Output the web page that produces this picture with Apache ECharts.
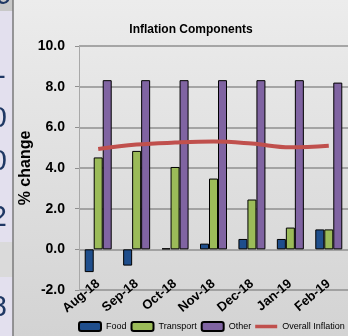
<!DOCTYPE html>
<html><head><meta charset="utf-8">
<script src="https://cdn.jsdelivr.net/npm/echarts@6/dist/echarts.min.js"></script>
<style>html,body{margin:0;padding:0;background:#fff;}#c{width:348px;height:336px;}</style>
</head><body><div id="c"></div>
<script>
const categories = ['Aug-18','Sep-18','Oct-18','Nov-18','Dec-18','Jan-19','Feb-19'];
const food = [-1.12, -0.8, 0.05, 0.28, 0.51, 0.51, 0.98];
const transport = [4.52, 4.84, 4.05, 3.48, 2.45, 1.07, 0.98];
const other = [8.32, 8.32, 8.32, 8.32, 8.32, 8.32, 8.2];
const overall = [4.93, 5.15, 5.25, 5.3, 5.2, 5.02, 5.1];
const yTicks = [-2, 0, 2, 4, 6, 8, 10];
const sideDigits = [['19', -4, 12], ['1', 70, 6], ['0', 119, 7], ['0', 162, 7], ['2', 218, 7], ['8', 308, 7]];

const FONT = '"Liberation Sans", Arial, sans-serif';
const chart = echarts.init(document.getElementById('c'));
const graphics = [
  {type:'rect', shape:{x:0,y:0,width:13,height:11}, style:{fill:'#c8c8c8'}, z:10},
  {type:'rect', shape:{x:0,y:11,width:13,height:231}, style:{fill:'#e3e0ee'}, z:10},
  {type:'rect', shape:{x:0,y:242,width:13,height:35}, style:{fill:'#dadada'}, z:10},
  {type:'rect', shape:{x:0,y:277,width:13,height:59}, style:{fill:'#e3e0ee'}, z:10},
  {type:'line', shape:{x1:13,y1:0,x2:13,y2:336}, style:{stroke:'#7a7a7a', lineWidth:1.5}, z:11}
];
sideDigits.forEach(d => graphics.push({
  type:'text', x:d[2], y:d[1], z:12,
  style:{text:d[0], fill:'#1f3864', font:'29px ' + FONT, align:'right', verticalAlign:'middle'}
}));

chart.setOption({
  animation:false,
  backgroundColor:{type:'linear', x:0, y:0, x2:0, y2:1, colorStops:[{offset:0,color:'#ececec'},{offset:1,color:'#d3d3d3'}]},
  title:{text:'Inflation Components', left:186, textAlign:'center', top:19,
    textStyle:{fontFamily:FONT, fontWeight:'bold', fontSize:12, color:'#000'}},
  legend:{left:78, top:321, width:270, itemWidth:22, itemHeight:9, itemGap:4, padding:0,
    textStyle:{fontFamily:FONT, fontSize:9, color:'#000'},
    data:[{name:'Food'},{name:'Transport'},{name:'Other'},
      {name:'Overall Inflation', icon:'path://M0,0H25V4H0Z', itemStyle:{color:'#c0504d'}}]},
  grid:{left:79, right:0, top:46, bottom:46, containLabel:false},
  xAxis:{type:'category', data:categories,
    axisLine:{onZero:false, show:false}, axisTick:{show:false},
    axisLabel:{rotate:40, margin:-8, interval:0, fontFamily:FONT, fontWeight:'bold', fontSize:13, color:'#000'}},
  yAxis:{type:'value', min:-2, max:10, interval:2,
    name:'% change', nameLocation:'middle', nameRotate:90, nameGap:45, nameMoveOverlap:false,
    nameTextStyle:{fontFamily:FONT, fontWeight:'bold', fontSize:16, color:'#000'},
    axisLine:{show:true, lineStyle:{color:'#a8a8a8', width:1}},
    axisTick:{show:true, length:4, lineStyle:{color:'#8f8f8f'}},
    splitLine:{lineStyle:{color:'#8f8f8f', width:1.6}},
    axisLabel:{margin:14, fontFamily:FONT, fontWeight:'bold', fontSize:14, color:'#000',
      formatter:v => yTicks.includes(v) ? v.toFixed(1) : ''}},
  series:[
    {name:'Food', type:'bar', data:food, barWidth:9, barGap:'0%',
      itemStyle:{color:'#1f4e8c', borderColor:'#000', borderWidth:1}},
    {name:'Transport', type:'bar', data:transport, barWidth:9, barGap:'0%',
      itemStyle:{color:'#9bbb59', borderColor:'#000', borderWidth:1}},
    {name:'Other', type:'bar', data:other, barWidth:9, barGap:'0%',
      itemStyle:{color:'#8064a2', borderColor:'#000', borderWidth:1}},
    {name:'Overall Inflation', type:'line', data:overall, smooth:0.4, symbol:'none',
      lineStyle:{color:'#c0504d', width:4}, itemStyle:{color:'#c0504d'}, z:5}
  ],
  graphic:graphics
});
</script></body></html>
